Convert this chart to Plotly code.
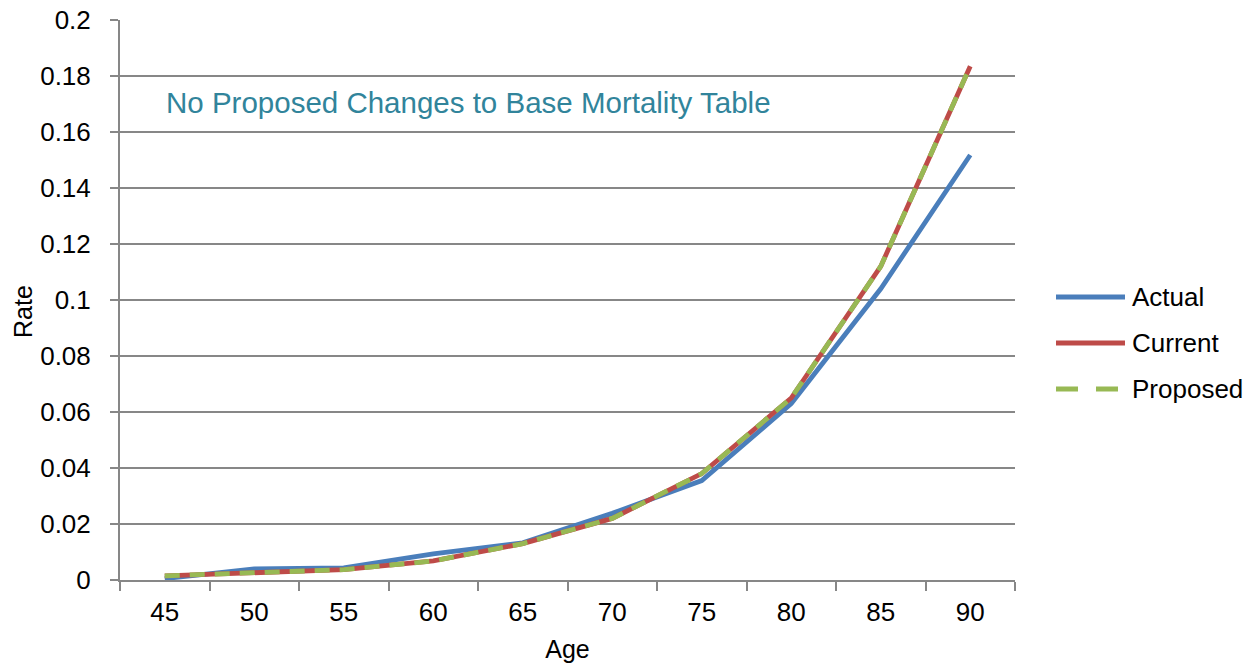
import plotly.graph_objects as go

# Mortality rates by age
ages = ["45", "50", "55", "60", "65", "70", "75", "80", "85", "90"]
actual = [0.0005, 0.0040, 0.0043, 0.0093, 0.0133, 0.0238, 0.0355, 0.0630, 0.1040, 0.1518]
current = [0.0015, 0.0025, 0.0037, 0.0068, 0.0130, 0.0220, 0.0380, 0.0650, 0.1120, 0.1835]
proposed = [0.0015, 0.0025, 0.0037, 0.0068, 0.0130, 0.0220, 0.0380, 0.0650, 0.1120, 0.1835]

series_names = ["Actual", "Current", "Proposed"]
colors = ["#4A7EBB", "#BE4B48", "#98B954"]
dashes = ["solid", "solid", "15px,10px"]
legend_dashes = ["solid", "solid", "22px,18px"]

FONT = "Liberation Sans, Arial, sans-serif"
GRID = "#878787"

# plot area in pixels
PL, PR, PT, PB = 120, 1015, 20, 580

fig = go.Figure()
for name, vals, col, dash in zip(series_names, [actual, current, proposed], colors, dashes):
    fig.add_trace(go.Scatter(
        x=ages, y=vals, mode="lines", name=name,
        line=dict(color=col, width=4.8, dash=dash),
        showlegend=False, cliponaxis=False,
    ))


def px_x(x):
    return (x - PL) / (PR - PL)


def px_y(y):
    return (PB - y) / (PB - PT)


# Legend drawn as line samples plus labels at the right of the plot
legend_y = [297, 343, 389]
for name, col, dash, yp in zip(series_names, colors, legend_dashes, legend_y):
    fig.add_shape(type="line", xref="paper", yref="paper",
                  x0=px_x(1056), x1=px_x(1125), y0=px_y(yp), y1=px_y(yp),
                  line=dict(color=col, width=4.8, dash=dash))
    fig.add_annotation(xref="paper", yref="paper",
                       x=px_x(1130), y=px_y(yp),
                       text=name, showarrow=False, xanchor="left", yanchor="middle",
                       font=dict(family=FONT, size=26, color="#000000"))

fig.add_annotation(xref="paper", yref="paper",
                   x=px_x(164), y=px_y(102),
                   text="No Proposed Changes to Base Mortality Table",
                   showarrow=False, xanchor="left", yanchor="middle",
                   font=dict(family=FONT, size=29.5, color="#31849B"))

# Y axis title
fig.add_annotation(xref="paper", yref="paper",
                   x=px_x(23), y=px_y(312),
                   text="Rate", textangle=-90, showarrow=False,
                   xanchor="center", yanchor="middle",
                   font=dict(family=FONT, size=25, color="#000000"))

fig.update_layout(
    width=1257, height=667,
    margin=dict(l=PL, r=1257 - PR, t=PT, b=667 - PB),
    paper_bgcolor="white", plot_bgcolor="white",
    font=dict(family=FONT, size=26, color="#000000"),
    xaxis=dict(
        type="category", range=[-0.5, 9.5], automargin=False,
        tickson="boundaries", ticks="outside", ticklen=9, tickwidth=2, tickcolor=GRID,
        showline=True, linecolor=GRID, linewidth=2,
        showgrid=False, zeroline=False,
        title=dict(text="Age", font=dict(family=FONT, size=25), standoff=14),
        tickfont=dict(family=FONT, size=26),
        ticklabelstandoff=8,
    ),
    yaxis=dict(
        range=[0, 0.2], dtick=0.02, tick0=0, automargin=False,
        tickformat="~g",
        ticks="outside", ticklen=8, tickwidth=2, tickcolor=GRID,
        showline=True, linecolor=GRID, linewidth=2,
        showgrid=True, gridcolor=GRID, gridwidth=2, zeroline=False,
        tickfont=dict(family=FONT, size=26),
        ticklabelstandoff=14,
    ),
)

fig.write_html("out.html")
